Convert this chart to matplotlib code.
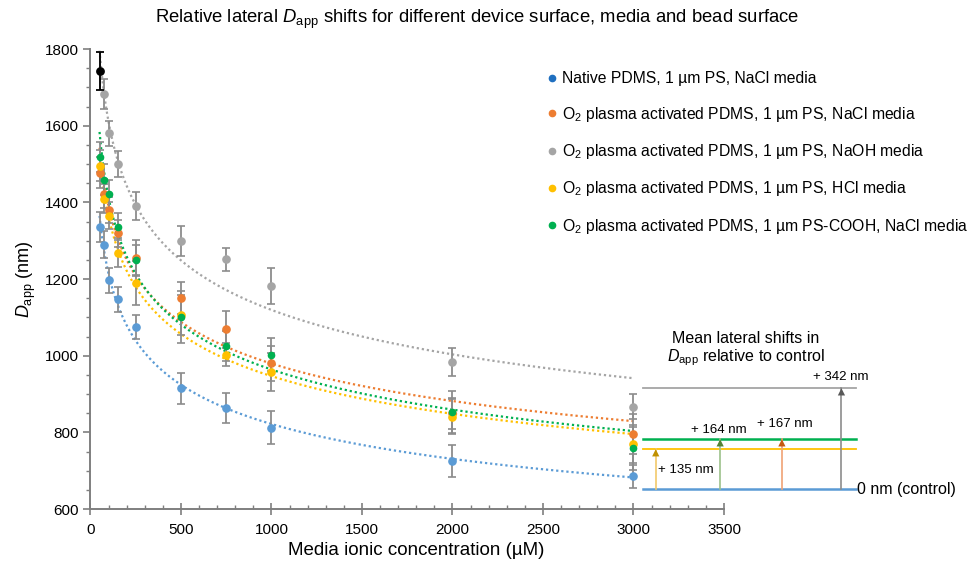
import numpy as np
import matplotlib
matplotlib.use('Agg')
import matplotlib.pyplot as plt
from matplotlib.lines import Line2D

plt.rcParams['font.family'] = ['Liberation Sans', 'DejaVu Sans']
plt.rcParams['mathtext.fontset'] = 'custom'
plt.rcParams['mathtext.rm'] = 'Liberation Sans'
plt.rcParams['mathtext.it'] = 'Liberation Sans:italic'

conc = [50, 75, 100, 150, 250, 500, 750, 1000, 2000, 3000]

native_nacl = [1336, 1290, 1197, 1147, 1075, 915, 863, 812, 725, 686]
native_nacl_err = [40, 35, 33, 33, 32, 40, 39, 43, 41, 30]
o2_nacl = [1477, 1423, 1380, 1319, 1254, 1150, 1069, 980, 850, 795]
o2_nacl_err = [40, 38, 35, 35, 47, 41, 48, 45, 40, 52]
o2_naoh = [1742, 1682, 1580, 1500, 1391, 1300, 1251, 1182, 983, 867]
o2_naoh_err = [49, 39, 32, 33, 36, 39, 31, 47, 36, 33]
o2_hcl = [1496, 1410, 1365, 1269, 1190, 1105, 1002, 957, 841, 769]
o2_hcl_err = [40, 38, 35, 38, 57, 52, 30, 50, 45, 50]
o2_cooh = [1518, 1459, 1421, 1336, 1250, 1102, 1025, 1003, 854, 758]
o2_cooh_err = [40, 40, 38, 35, 40, 68, 40, 42, 55, 55]

labels = ['Native PDMS, 1 µm PS, NaCl media',
          'O$_2$ plasma activated PDMS, 1 µm PS, NaCl media',
          'O$_2$ plasma activated PDMS, 1 µm PS, NaOH media',
          'O$_2$ plasma activated PDMS, 1 µm PS, HCl media',
          'O$_2$ plasma activated PDMS, 1 µm PS-COOH, NaCl media']
colors = ['#5B9BD5', '#ED7D31', '#A5A5A5', '#FFC000', '#00B050']
legend_colors = ['#1F6FC0', '#ED7D31', '#A5A5A5', '#FFC000', '#00B050']
series = [native_nacl, o2_nacl, o2_naoh, o2_hcl, o2_cooh]
errors = [native_nacl_err, o2_nacl_err, o2_naoh_err, o2_hcl_err, o2_cooh_err]

# mean shift summary (levels drawn at right of plot)
levels = [651, 756, 782, 915]          # control, HCl, NaCl/COOH, NaOH
level_colors = ['#5B9BD5', '#FFC000', '#00B050', '#A5A5A5']
shift_labels = ['+ 135 nm', '+ 164 nm', '+ 167 nm', '+ 342 nm']

fig = plt.figure(figsize=(9.74, 5.62), dpi=100)
ax = fig.add_axes([0.0929, 0.0943, 0.6504, 0.8185])

x = np.array(conc, dtype=float)
xf = np.linspace(50, 3000, 300)
for y, e, c in zip(series, errors, colors):
    y = np.array(y, dtype=float)
    # power-law trendline
    b, a = np.polyfit(np.log(x), np.log(y), 1)
    ax.plot(xf, np.exp(a) * xf ** b, color=c, lw=1.6, ls=(0, (1, 1.3)), zorder=2)
    ax.errorbar(x, y, yerr=e, fmt='none', ecolor='#8C8C8C', elinewidth=1.3,
                capsize=3, capthick=1.2, zorder=3)
for y, c in zip(series, colors):
    ms = 4.5 if c == '#00B050' else 5.2
    ax.plot(x, y, 'o', color=c, ms=ms, zorder=4)

# control point drawn in black
ax.errorbar([conc[0]], [o2_naoh[0]], yerr=[o2_naoh_err[0]], fmt='o', color='black',
            ecolor='black', ms=5.2, elinewidth=1.3, capsize=3, capthick=1.2, zorder=5)

ax.set_xlim(0, 3500)
ax.set_ylim(600, 1800)
ax.set_xticks(np.arange(0, 3501, 500))
ax.set_xticks(np.arange(0, 3501, 100), minor=True)
ax.set_yticks(np.arange(600, 1801, 200))
ax.set_yticks(np.arange(600, 1801, 50), minor=True)
for s in ['top', 'right']:
    ax.spines[s].set_visible(False)
for s in ['left', 'bottom']:
    ax.spines[s].set_color('#7F7F7F')
    ax.spines[s].set_linewidth(1.4)
ax.tick_params(axis='y', which='major', direction='out', length=5, width=1.2,
               color='#7F7F7F', labelsize=11)
ax.tick_params(axis='y', which='minor', direction='out', length=3, width=1,
               color='#7F7F7F')
ax.tick_params(axis='x', which='major', direction='inout', length=8, width=1.2,
               color='#7F7F7F', labelsize=11, pad=6)
ax.tick_params(axis='x', which='minor', direction='in', length=3, width=1,
               color='#7F7F7F')

ax.set_xlabel('Media ionic concentration (µM)', fontsize=13.5)
ax.xaxis.set_label_coords(0.514, -0.072)
ax.set_ylabel('$D_{\\mathrm{app}}$ (nm)', fontsize=13, labelpad=5)
fig.text(0.49, 0.966, 'Relative lateral $D_{\\mathrm{app}}$ shifts for different device surface, '
         'media and bead surface', ha='center', va='center', fontsize=13.3)

# legend
handles = [Line2D([], [], ls='none', marker='o', ms=4.5, color=c) for c in legend_colors]
fig.legend(handles, labels, loc='upper left', bbox_to_anchor=(0.5535, 0.887),
           frameon=False, fontsize=11.3, handlelength=0.6, handletextpad=0.35,
           labelspacing=1.17, borderpad=0)

# mean shift schematic
x0, x1 = 3053, 4228
for lv, c in zip(levels, level_colors):
    lw = 1.8 if c in ('#5B9BD5', '#00B050') else 1.3
    ax.plot([x0, x1], [lv, lv], color=c, lw=lw, clip_on=False, zorder=2)

arrow_x = [3123, 3479, 3820, 4149]
arrow_top = [756, 782, 782, 915]
shaft_colors = ['#F2C96B', '#9CC18A', '#F0A274', '#8C8C8C']
head_colors = ['#BF9000', '#548235', '#C55A11', '#595959']
for xa, top, sc, hc in zip(arrow_x, arrow_top, shaft_colors, head_colors):
    ax.plot([xa, xa], [levels[0], top], color=sc, lw=1.2, clip_on=False, zorder=2)
    ax.annotate('', xy=(xa, top), xytext=(xa, top - 30), annotation_clip=False,
                arrowprops=dict(arrowstyle='-|>', color=hc, lw=0, mutation_scale=13,
                                shrinkA=0, shrinkB=0))

ax.text(3136, 702, shift_labels[0], ha='left', va='center', fontsize=9.5, clip_on=False)
ax.text(3474, 806, shift_labels[1], ha='center', va='center', fontsize=9.5, clip_on=False)
ax.text(3838, 821, shift_labels[2], ha='center', va='center', fontsize=9.5, clip_on=False)
ax.text(4144, 945, shift_labels[3], ha='center', va='center', fontsize=9.5, clip_on=False)
ax.text(4233, 651, '0 nm (control)', ha='left', va='center', fontsize=11.5, clip_on=False)
ax.text(3620, 1015, 'Mean lateral shifts in\n$D_{\\mathrm{app}}$ relative to control',
        ha='center', va='center', fontsize=11.5, linespacing=1.1, clip_on=False)

fig.savefig('out.png', dpi=100)
